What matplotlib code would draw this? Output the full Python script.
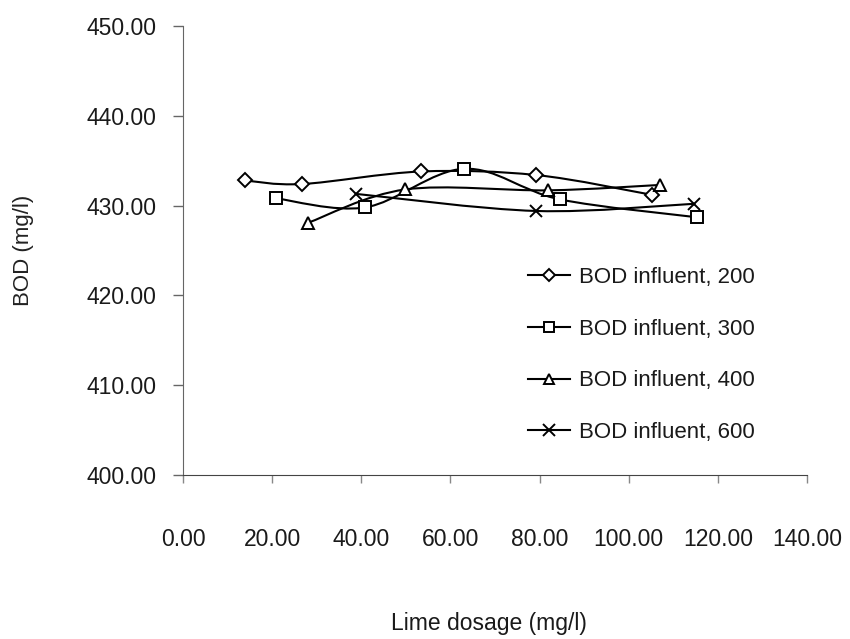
import matplotlib
matplotlib.use('Agg')
import matplotlib.pyplot as plt
from matplotlib.path import Path
from matplotlib.patches import PathPatch
from matplotlib.lines import Line2D
import numpy as np

plt.rcParams['font.family'] = ['Liberation Sans', 'DejaVu Sans']

# BOD influent 200
x200 = [13.9, 26.7, 53.5, 79.3, 105.2]
y200 = [432.8, 432.4, 433.8, 433.4, 431.2]
# BOD influent 300
x300 = [20.9, 40.9, 63.1, 84.5, 115.3]
y300 = [430.8, 429.8, 434.1, 430.7, 428.7]
# BOD influent 400
x400 = [28.1, 49.9, 82.0, 107.0]
y400 = [428.1, 431.8, 431.7, 432.3]
# BOD influent 600
x600 = [38.9, 79.3, 114.6]
y600 = [431.3, 429.4, 430.2]

labels = ['BOD influent, 200', 'BOD influent, 300', 'BOD influent, 400', 'BOD influent, 600']
markers = ['D', 's', '^', 'x']
msizes = [7.5, 8.5, 8.5, 9]

xticks = np.arange(0, 141, 20)
yticks = np.arange(400, 451, 10)


def smooth_path(xs, ys):
    # excel-like smoothed line: cubic bezier segments through the points
    p = np.column_stack([xs, ys])
    n = len(p)
    verts = [p[0]]
    codes = [Path.MOVETO]
    for i in range(n - 1):
        prev = p[i - 1] if i > 0 else p[i]
        nxt = p[i + 2] if i + 2 < n else p[i + 1]
        c1 = p[i] + (p[i + 1] - prev) / 6.0
        c2 = p[i + 1] - (nxt - p[i]) / 6.0
        verts += [c1, c2, p[i + 1]]
        codes += [Path.CURVE4] * 3
    return Path(verts, codes)


fig = plt.figure(figsize=(8.5, 6.39), dpi=100)
ax = fig.add_axes([183 / 850, 1 - 475 / 639, 624 / 850, 449 / 639])

series = [(x200, y200), (x300, y300), (x400, y400), (x600, y600)]
handles = []
for (xs, ys), m, ms, lab in zip(series, markers, msizes, labels):
    ax.add_patch(PathPatch(smooth_path(xs, ys), fill=False, edgecolor='black', lw=1.5, zorder=2))
    ax.plot(xs, ys, linestyle='none', marker=m, markersize=ms, markerfacecolor='white',
            markeredgecolor='black', markeredgewidth=1.4, zorder=3)
    handles.append(Line2D([], [], color='black', lw=1.5, marker=m, markersize=ms - 1,
                          markerfacecolor='white', markeredgecolor='black', markeredgewidth=1.4))

ax.set_xlim(0, 140)
ax.set_ylim(400, 450)
ax.set_xticks(xticks)
ax.set_yticks(yticks)
ax.set_xticklabels([f'{v:.2f}' for v in xticks])
ax.set_yticklabels([f'{v:.2f}' for v in yticks])

for s in ['top', 'right']:
    ax.spines[s].set_visible(False)
ax.spines['left'].set_color('#666666')
ax.spines['bottom'].set_color('#444444')
ax.tick_params(axis='y', direction='out', length=7, width=1, color='#666666', pad=12,
               labelsize=16.5, labelcolor='#1a1a1a')
ax.tick_params(axis='x', direction='out', length=6, width=1, color='#888888', pad=32,
               labelsize=16.5, labelcolor='#1a1a1a')

ax.set_ylabel('BOD (mg/l)', fontsize=16, color='#222222')
ax.yaxis.set_label_coords(-0.239, 0.5)
ax.set_xlabel('Lime dosage (mg/l)', fontsize=16.5, color='#1a1a1a')
ax.xaxis.set_label_coords(0.49, -0.305)

leg = ax.legend(handles, labels, loc='upper left', bbox_to_anchor=(528 / 850, 1 - 267 / 639),
                bbox_transform=fig.transFigure, frameon=False, fontsize=16,
                handlelength=1.9, handletextpad=0.4, labelspacing=1.38, borderpad=0,
                borderaxespad=0)
for t in leg.get_texts():
    t.set_color('#1a1a1a')

fig.savefig('out.png', dpi=100)
